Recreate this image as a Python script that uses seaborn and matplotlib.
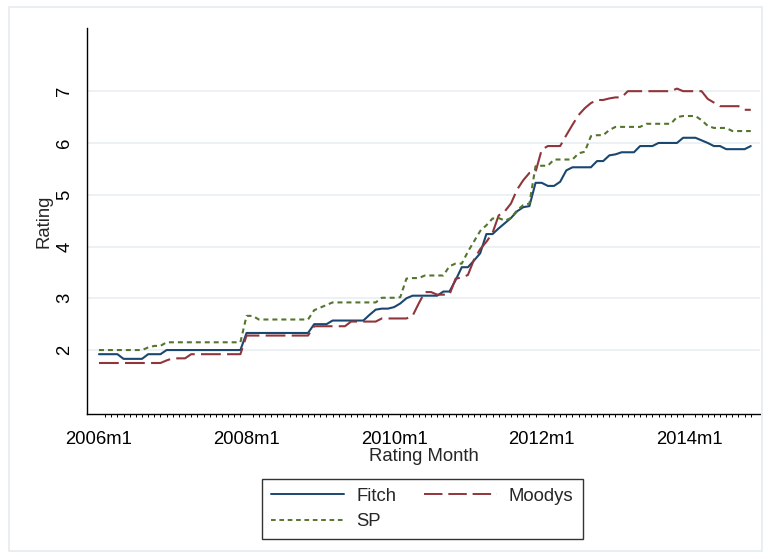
import numpy as np
import pandas as pd
import matplotlib
matplotlib.use('Agg')
import matplotlib.pyplot as plt
from matplotlib.patches import Rectangle
import seaborn as sns

# monthly ratings, 2006m1 .. 2014m11 (one row per year)
fitch = [
    1.92, 1.92, 1.92, 1.92, 1.83, 1.83, 1.83, 1.83, 1.92, 1.92, 1.92, 2.00,
    2.00, 2.00, 2.00, 2.00, 2.00, 2.00, 2.00, 2.00, 2.00, 2.00, 2.00, 2.00,
    2.33, 2.33, 2.33, 2.33, 2.33, 2.33, 2.33, 2.33, 2.33, 2.33, 2.33, 2.50,
    2.50, 2.50, 2.57, 2.57, 2.57, 2.57, 2.57, 2.57, 2.68, 2.78, 2.80, 2.80,
    2.83, 2.90, 3.00, 3.05, 3.05, 3.05, 3.05, 3.05, 3.13, 3.13, 3.35, 3.60,
    3.60, 3.73, 3.87, 4.24, 4.24, 4.35, 4.45, 4.55, 4.68, 4.76, 4.78, 5.23,
    5.23, 5.17, 5.17, 5.25, 5.47, 5.53, 5.53, 5.53, 5.53, 5.65, 5.65, 5.76,
    5.78, 5.82, 5.82, 5.82, 5.94, 5.94, 5.94, 6.00, 6.00, 6.00, 6.00, 6.10,
    6.10, 6.10, 6.05, 6.00, 5.94, 5.94, 5.88, 5.88, 5.88, 5.88, 5.94,
]
moodys = [
    1.75, 1.75, 1.75, 1.75, 1.75, 1.75, 1.75, 1.75, 1.75, 1.75, 1.75, 1.80,
    1.84, 1.84, 1.84, 1.92, 1.92, 1.92, 1.92, 1.92, 1.92, 1.92, 1.92, 1.92,
    2.28, 2.28, 2.28, 2.28, 2.28, 2.28, 2.28, 2.28, 2.28, 2.28, 2.28, 2.46,
    2.46, 2.46, 2.46, 2.46, 2.46, 2.55, 2.55, 2.55, 2.55, 2.55, 2.61, 2.61,
    2.61, 2.61, 2.61, 2.66, 2.90, 3.12, 3.12, 3.07, 3.07, 3.07, 3.38, 3.40,
    3.45, 3.75, 3.95, 4.09, 4.26, 4.60, 4.68, 4.83, 5.10, 5.28, 5.42, 5.44,
    5.87, 5.94, 5.94, 5.94, 6.15, 6.35, 6.54, 6.67, 6.77, 6.83, 6.83, 6.86,
    6.88, 6.88, 7.00, 7.00, 7.00, 7.00, 7.00, 7.00, 7.00, 7.00, 7.05, 7.00,
    7.00, 7.00, 7.00, 6.85, 6.78, 6.71, 6.71, 6.71, 6.71, 6.64, 6.64,
]
sp = [
    2.00, 2.00, 2.00, 2.00, 2.00, 2.00, 2.00, 2.00, 2.05, 2.08, 2.08, 2.15,
    2.15, 2.15, 2.15, 2.15, 2.15, 2.15, 2.15, 2.15, 2.15, 2.15, 2.15, 2.15,
    2.66, 2.66, 2.59, 2.59, 2.59, 2.59, 2.59, 2.59, 2.59, 2.59, 2.59, 2.77,
    2.82, 2.87, 2.92, 2.92, 2.92, 2.92, 2.92, 2.92, 2.92, 2.92, 3.01, 3.01,
    3.01, 3.02, 3.38, 3.39, 3.39, 3.44, 3.44, 3.44, 3.44, 3.62, 3.67, 3.67,
    3.90, 4.10, 4.30, 4.41, 4.54, 4.55, 4.50, 4.55, 4.70, 4.80, 4.83, 5.55,
    5.56, 5.56, 5.68, 5.68, 5.68, 5.68, 5.80, 5.83, 6.13, 6.15, 6.15, 6.25,
    6.31, 6.31, 6.31, 6.31, 6.31, 6.37, 6.37, 6.37, 6.37, 6.37, 6.50, 6.52,
    6.52, 6.52, 6.44, 6.33, 6.29, 6.29, 6.29, 6.23, 6.23, 6.23, 6.23,
]
agencias = ['Fitch', 'Moodys', 'SP']
cores = {'Fitch': '#1a476f', 'Moodys': '#90353b', 'SP': '#55752f'}
tracos = {'Fitch': '', 'Moodys': (9.5, 3.0), 'SP': (2.4, 1.9)}

x_ticks = [0, 24, 48, 72, 96]
x_labels = ['2006m1', '2008m1', '2010m1', '2012m1', '2014m1']
y_ticks = [1, 2, 3, 4, 5, 6, 7, 8]
y_labels = ['', '2', '3', '4', '5', '6', '7', '']

meses = np.arange(len(fitch))
df = pd.DataFrame({'mes': np.tile(meses, 3),
                   'rating': fitch + moodys + sp,
                   'agencia': np.repeat(agencias, len(fitch))})

sns.set_style('white')
plt.rcParams['font.family'] = ['Liberation Sans', 'DejaVu Sans']
fs = 13.3

fig = plt.figure(figsize=(7.69, 5.59), dpi=100)
fig.patches.append(Rectangle((0.012, 0.015), 0.979, 0.972, transform=fig.transFigure,
                             fill=False, edgecolor='#e4ecee', linewidth=1.2))
ax = fig.add_axes([0.1131, 0.2594, 0.8752, 0.6905])

for y in range(2, 8):
    ax.axhline(y, color='#eaf1f3', linewidth=1.3, zorder=0)

sns.lineplot(data=df, x='mes', y='rating', hue='agencia', style='agencia',
             palette=cores, dashes=tracos, linewidth=1.5, ax=ax, legend=False)

ax.set_xlim(-1.95, 107.5)
ax.set_ylim(0.765, 8.22)
ax.set_xticks(x_ticks)
ax.set_xticklabels(x_labels)
ax.set_xticks(meses, minor=True)
ax.set_yticks(y_ticks)
ax.set_yticklabels(y_labels)

for lado in ['top', 'right']:
    ax.spines[lado].set_visible(False)
for lado in ['left', 'bottom']:
    ax.spines[lado].set_color('black')
    ax.spines[lado].set_linewidth(1.0)

ax.tick_params(axis='x', which='major', direction='out', length=4.5, width=0.9,
               color='black', labelsize=fs, labelcolor='black', pad=8)
ax.tick_params(axis='y', which='major', direction='out', length=5.8, width=0.9,
               color='black', labelsize=fs, labelcolor='black', pad=4,
               labelrotation=90)
ax.tick_params(axis='x', which='minor', direction='out', length=2.5, width=0.7,
               color='black', bottom=True)
for t in ax.get_yticklabels():
    t.set_va('center')

ax.set_xlabel('Rating Month', fontsize=fs, labelpad=0)
ax.set_ylabel('Rating', fontsize=fs, labelpad=3)

# ordem das entradas: Fitch, SP na 1a coluna; Moodys na 2a
ordem = ['Fitch', 'SP', 'Moodys']
handles = [plt.Line2D([], [], color=cores[a], linewidth=1.4,
                      linestyle=(0, tracos[a]) if tracos[a] else '-') for a in ordem]
leg = fig.legend(handles, ordem, loc='center', bbox_to_anchor=(0.549, 0.0894),
                 ncol=2, fontsize=fs, frameon=True, fancybox=False,
                 handlelength=3.95, columnspacing=1.5, handletextpad=0.65,
                 borderpad=0.5, labelspacing=0.45)
leg.get_frame().set_edgecolor('black')
leg.get_frame().set_linewidth(1.0)

plt.savefig('out.png', dpi=100)
plt.close()
